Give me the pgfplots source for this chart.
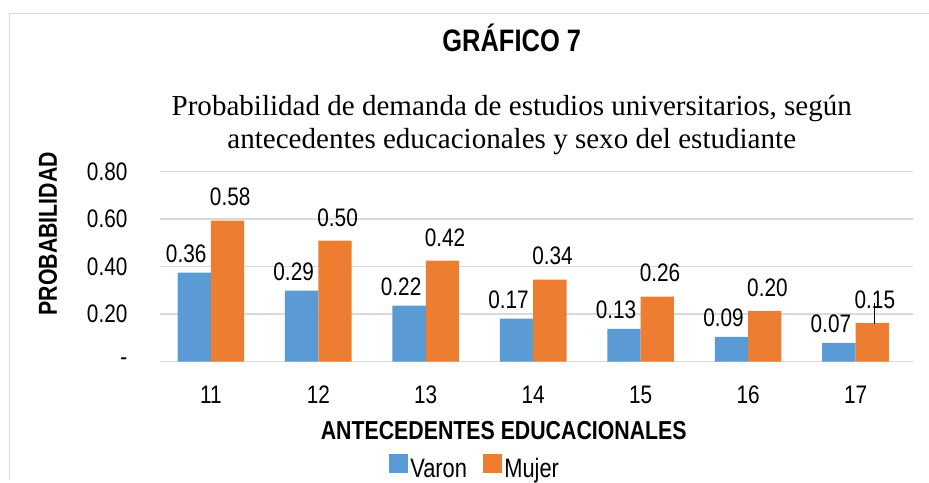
\documentclass[border=0pt]{standalone}
\usepackage{fontspec}
\setmainfont{Liberation Sans}[FakeStretch=0.82]
\newfontfamily\timesfont{Liberation Serif}
\usepackage{pgfplots}
\pgfplotsset{compat=1.18}
\definecolor{varon}{HTML}{5B9BD5}
\definecolor{mujer}{HTML}{ED7D31}
\definecolor{gridgray}{HTML}{D9D9D9}

\begin{document}
\begin{tikzpicture}
\begin{axis}[
  scale only axis,
  width=564.75pt, height=142.5pt,
  xmin=10.526, xmax=17.53, ymin=0, ymax=0.8,
  ybar=0pt, bar width=25pt,
  axis line style={draw=none},
  major tick length=0pt,
  ymajorgrids=true,
  grid style={gridgray, line width=1.1pt},
  ytick={0,0.2,0.4,0.6,0.8},
  yticklabels={{-\hspace{8pt}},0.20,0.40,0.60,0.80},
  xtick={11,12,13,14,15,16,17},
  /pgf/number format/assume math mode=true,
  tick label style={font=\fontsize{19}{22}\selectfont},
  yticklabel style={anchor=east, inner sep=0pt, xshift=-24.2pt},
  xticklabel style={anchor=base, inner sep=0pt, yshift=-31.2pt},
  nodes near coords,
  point meta=explicit symbolic,
  nodes near coords style={font=\fontsize{19}{22}\selectfont, anchor=base, inner sep=0pt},
  legend columns=2,
  legend style={at={(0.304,-0.638)}, anchor=south west, draw=none,
    font=\fontsize{20}{23}\selectfont, inner sep=0pt,
    /tikz/every even column/.append style={column sep=10pt}},
  legend image code/.code={\fill[#1] (0pt,-3pt) rectangle (14pt,11pt);},
]
\addplot[fill=varon, draw=none,
  every node near coord/.append style={xshift=-6pt, yshift=7.5pt}]
  coordinates {
  (11,0.375) [0.36]
  (12,0.299) [0.29]
  (13,0.236) [0.22]
  (14,0.181) [0.17]
  (15,0.138) [0.13]
  (16,0.104) [0.09]
  (17,0.079) [0.07]
};
\addplot[fill=mujer, draw=none,
  every node near coord/.append style={xshift=2pt, yshift=11pt}]
  coordinates {
  (11,0.594) [0.58]
  (12,0.509) [0.50]
  (13,0.425) [0.42]
  (14,0.345) [0.34]
  (15,0.274) [0.26]
  (16,0.213) [0.20]
  (17,0.163) [0.15]
};
\legend{Varon, Mujer}
\draw[black, line width=0.9pt] (axis cs:17.174,0.159) -- (axis cs:17.174,0.247);
\end{axis}
% frame of the chart area
\draw[gridgray, line width=0.75pt] (-112.5pt,-88pt) -- (-112.5pt,261.5pt) -- (576.75pt,261.5pt);
\node[anchor=base, font=\bfseries\fontsize{23.3}{28}\selectfont] at (264pt,233pt) {GRÁFICO 7};
\node[anchor=base, font=\timesfont\fontsize{21.8}{24}\selectfont] at (264pt,185pt)
  {Probabilidad de demanda de estudios universitarios, según};
\node[anchor=base, font=\timesfont\fontsize{21.8}{24}\selectfont] at (264pt,159.5pt)
  {antecedentes educacionales y sexo del estudiante};
\node[anchor=base, font=\bfseries\fontsize{19.5}{22}\selectfont] at (258pt,-58.7pt)
  {ANTECEDENTES EDUCACIONALES};
\node[rotate=90, anchor=base, font=\bfseries\fontsize{19.5}{22}\selectfont] at (-77.25pt,95.8pt)
  {PROBABILIDAD};
\useasboundingbox (-120pt,-88pt) rectangle (576.75pt,271.3pt);
\end{tikzpicture}
\end{document}
